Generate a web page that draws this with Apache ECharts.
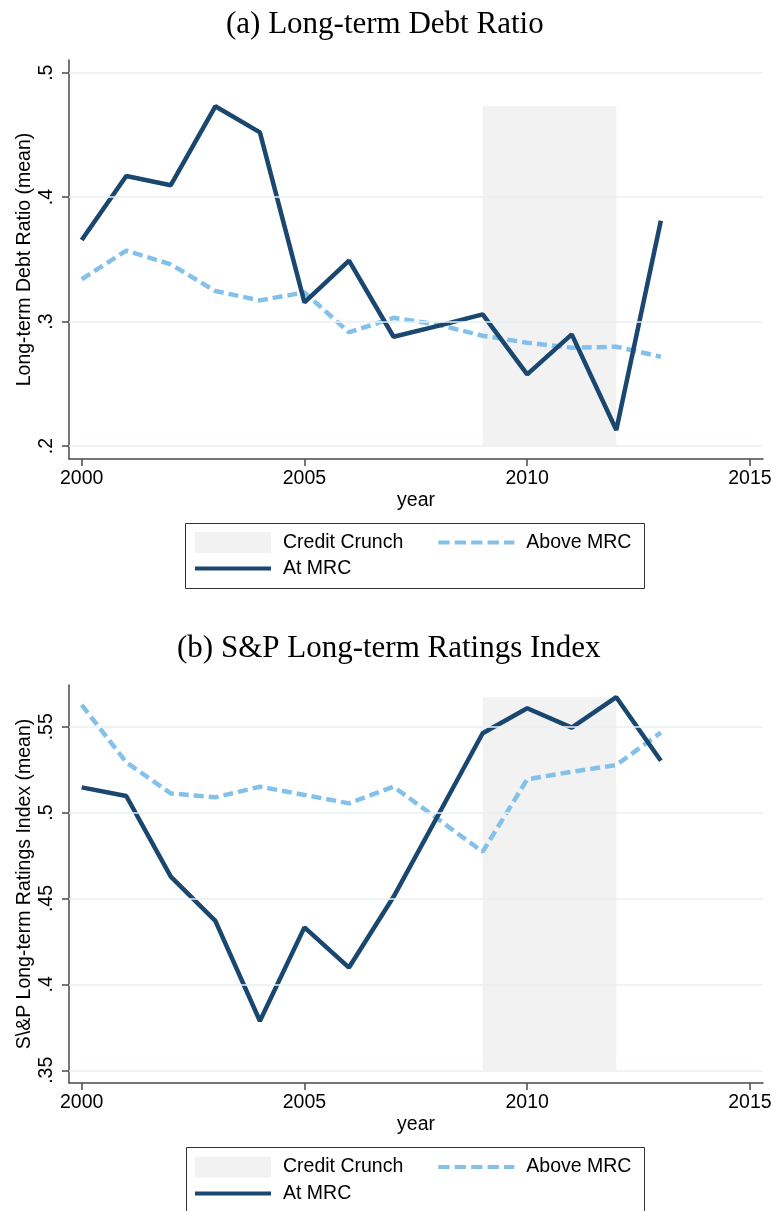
<!DOCTYPE html>
<html><head><meta charset="utf-8">
<script src="https://cdn.jsdelivr.net/npm/echarts@6/dist/echarts.min.js"></script>
<style>html,body{margin:0;padding:0;background:#fff}#c{width:775px;height:1211px}</style>
</head><body><div id="c"></div>
<script>
const years = [2000,2001,2002,2003,2004,2005,2006,2007,2008,2009,2010,2011,2012,2013];
const debtAtMRC    = [0.3655,0.417,0.4096,0.473,0.452,0.3154,0.349,0.2878,0.2965,0.3058,0.2576,0.2897,0.2129,0.381];
const debtAboveMRC = [0.334,0.357,0.346,0.3245,0.317,0.3235,0.2913,0.303,0.2975,0.2886,0.283,0.279,0.2798,0.2717];
const ratingAtMRC    = [0.5147,0.5097,0.4627,0.437,0.3787,0.4332,0.4098,0.451,0.4985,0.5462,0.5608,0.5495,0.5672,0.5302];
const ratingAboveMRC = [0.5627,0.5293,0.5112,0.5089,0.5151,0.5103,0.5054,0.5151,0.4962,0.4772,0.5194,0.5238,0.5277,0.5466];
const crunchYears = [2009, 2012];
const xTicks = [2000, 2005, 2010, 2015];
const debtTicks = [0.2, 0.3, 0.4, 0.5];
const ratingTicks = [0.35, 0.4, 0.45, 0.5, 0.55];
const titles = ['(a) Long-term Debt Ratio', '(b) S&P Long-term Ratings Index'];
const yNames = ['Long-term Debt Ratio (mean)', 'S\\&P Long-term Ratings Index (mean)'];
const xName = 'year';
const legendNames = ['Credit Crunch', 'Above MRC', 'At MRC'];

const SANS = '"Liberation Sans", Arial, Helvetica, sans-serif';
const SERIF = '"Liberation Serif", "Times New Roman", serif';
const NAVY = '#1a476f', LIGHT = '#84c1ea', SHADE = '#f2f2f2', GRID = '#e8eff2', AXIS = '#4a4a4a';
const FS = 19.5;

const panels = [
  {top: 60, height: 399, ymin: 0.18955, ymax: 0.5102, ticks: debtTicks, at: debtAtMRC, above: debtAboveMRC, yName: yNames[0], title: titles[0], titleLeft: 221, titleTop: 4, leg1: 532, leg2: 558.5, box: [185.5, 523.5, 459, 65]},
  {top: 685, height: 398, ymin: 0.3426, ymax: 0.5743, ticks: ratingTicks, at: ratingAtMRC, above: ratingAboveMRC, yName: yNames[1], title: titles[1], titleLeft: 172, titleTop: 628, leg1: 1156.5, leg2: 1183.5, box: [186.5, 1147.5, 458, 80]}
];

const fmt = v => String(+v.toFixed(4)).replace(/^0\./, '.');
const pairs = arr => years.map((y, i) => [y, arr[i]]);

const dashPath = 'path://M0,0h11v4h-11z M16,0h11v4h-11z M32,0h11v4h-11z M48,0h11v4h-11z M64,0h10v4h-10z';
const linePath = 'path://M0,0h76v4h-76z';

const option = {
  animation: false,
  backgroundColor: '#fff',
  title: panels.map(p => ({text: p.title, left: p.titleLeft, top: p.titleTop, textStyle: {fontFamily: SERIF, fontSize: 31, fontWeight: 'normal', color: '#000'}})),
  grid: panels.map(p => ({left: 69, right: 12, top: p.top, height: p.height, containLabel: false})),
  xAxis: panels.map((p, i) => ({
    type: 'value', gridIndex: i, min: 1999.715, max: 2015.293,
    name: xName, nameLocation: 'middle', nameGap: 32, nameMoveOverlap: false,
    nameTextStyle: {fontFamily: SANS, fontSize: FS, color: '#000'},
    axisLine: {show: true, onZero: false, lineStyle: {color: AXIS, width: 1.5}},
    axisTick: {show: true, length: 7, inside: false, customValues: xTicks, lineStyle: {color: AXIS, width: 1.5}},
    axisLabel: {customValues: xTicks, margin: 10, fontFamily: SANS, fontSize: FS, color: '#000', formatter: v => String(v)},
    splitLine: {show: false}
  })),
  yAxis: panels.map((p, i) => ({
    type: 'value', gridIndex: i, min: p.ymin, max: p.ymax,
    name: p.yName, nameLocation: 'middle', nameGap: 34, nameRotate: 90, nameMoveOverlap: false,
    nameTextStyle: {fontFamily: SANS, fontSize: FS, color: '#000'},
    axisLine: {show: true, onZero: false, lineStyle: {color: AXIS, width: 1.5}},
    axisTick: {show: true, length: 7, inside: false, customValues: p.ticks, lineStyle: {color: AXIS, width: 1.5}},
    axisLabel: {customValues: p.ticks, rotate: 90, margin: 12, fontFamily: SANS, fontSize: FS, color: '#000', formatter: v => fmt(v)},
    splitLine: {show: false}
  })),
  legend: [],
  graphic: panels.map(p => ({type: 'rect', shape: {x: p.box[0], y: p.box[1], width: p.box[2], height: p.box[3]}, style: {fill: 'none', stroke: '#333', lineWidth: 1}, z: 100})),
  series: []
};

panels.forEach((p, i) => {
  option.series.push({
    type: 'line', name: '_grid' + i, xAxisIndex: i, yAxisIndex: i, data: [], z: 1, silent: true,
    markLine: {silent: true, symbol: ['none', 'none'], label: {show: false}, animation: false,
      lineStyle: {color: GRID, width: 1.5, type: 'solid'},
      data: p.ticks.map(t => ({yAxis: t}))}
  });
  const bandTop = Math.max(...p.at);
  option.series.push({
    type: 'line', name: legendNames[0], xAxisIndex: i, yAxisIndex: i, data: [], z: 2, silent: true,
    color: SHADE, itemStyle: {color: SHADE},
    markArea: {silent: true, itemStyle: {color: SHADE, opacity: 1},
      data: [[{coord: [crunchYears[0], p.ticks[0]]}, {coord: [crunchYears[1], bandTop]}]]}
  });
  option.series.push({
    type: 'line', name: legendNames[1], xAxisIndex: i, yAxisIndex: i, data: pairs(p.above), z: 3,
    symbol: 'none', showSymbol: false, color: LIGHT,
    lineStyle: {color: LIGHT, width: 4.5, type: [10, 5], cap: 'butt'}
  });
  option.series.push({
    type: 'line', name: legendNames[2], xAxisIndex: i, yAxisIndex: i, data: pairs(p.at), z: 4,
    symbol: 'none', showSymbol: false, color: NAVY,
    lineStyle: {color: NAVY, width: 4.5, type: 'solid'}
  });
  const legBase = {left: 195, itemWidth: 76, itemHeight: 21, itemGap: 35, padding: 0, selectedMode: false,
    itemStyle: {borderWidth: 0}, textStyle: {fontFamily: SANS, fontSize: FS, color: '#000', padding: [0, 0, 0, 7]}};
  option.legend.push(Object.assign({}, legBase, {top: p.leg1,
    data: [{name: legendNames[0], icon: 'rect'}, {name: legendNames[1], icon: dashPath}]}));
  option.legend.push(Object.assign({}, legBase, {top: p.leg2,
    data: [{name: legendNames[2], icon: linePath}]}));
});

const chart = echarts.init(document.getElementById('c'), null, {renderer: 'canvas'});
chart.setOption(option);
</script>
</body></html>
